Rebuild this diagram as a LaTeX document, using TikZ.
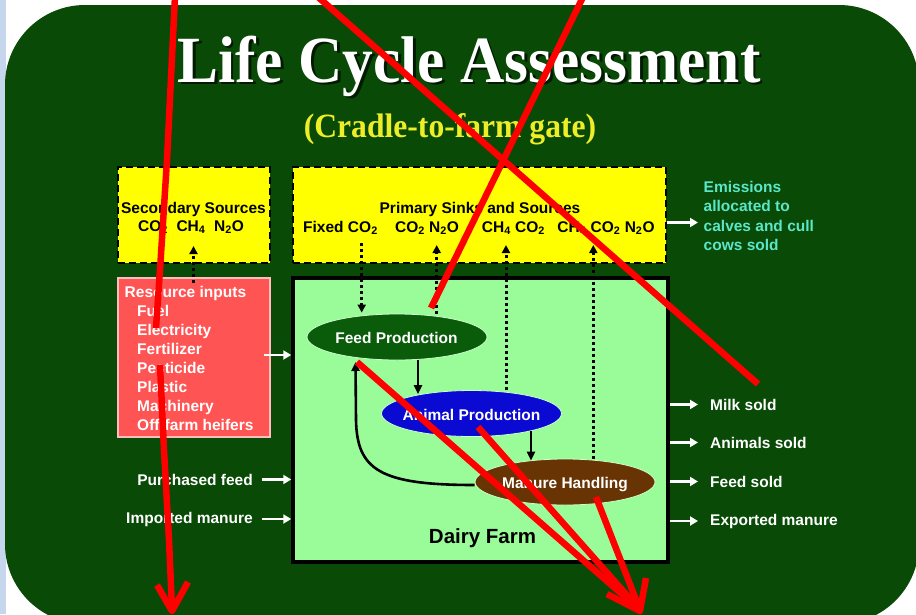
\documentclass[tikz,border=0pt]{standalone}
\usepackage{fontspec}
\setmainfont{Liberation Sans}
\newfontfamily\titlefont{Liberation Serif}
\usetikzlibrary{shapes.geometric,arrows.meta}
\definecolor{panelgreen}{RGB}{8,74,6}
\definecolor{boxyellow}{RGB}{255,255,0}
\definecolor{farmgreen}{RGB}{153,252,153}
\definecolor{resred}{RGB}{255,84,84}
\definecolor{resborder}{RGB}{255,190,190}
\definecolor{emitcyan}{RGB}{92,230,200}
\definecolor{subyellow}{RGB}{238,238,40}
\definecolor{feedgreen}{RGB}{10,92,10}
\definecolor{animalblue}{RGB}{10,10,210}
\definecolor{manurebrown}{RGB}{104,52,4}
\definecolor{markred}{RGB}{255,0,0}
\definecolor{edgeblue}{RGB}{198,214,236}
\begin{document}
\begin{tikzpicture}[x=1pt,y=-1pt,
  lbl/.style={font=\fontsize{15.5}{19}\selectfont\bfseries, inner sep=0pt},
  wlbl/.style={lbl, text=white},
  ybox/.style={draw=black, fill=boxyellow, line width=2.7pt, dash pattern=on 7pt off 4pt, inner sep=0pt},
  proc/.style={ellipse, draw=white!80!green, line width=0.8pt, minimum width=180pt, minimum height=46pt, inner sep=0pt},
  dotarrow/.style={draw=black, line width=3pt, dash pattern=on 3pt off 3pt, -{Triangle[length=8pt,width=8pt]}},
  flow/.style={draw=black, line width=2.6pt, -{Triangle[length=9pt,width=8pt]}},
  warrow/.style={draw=white, line width=2.6pt, -{Triangle[length=8pt,width=9pt]}},
  redmark/.style={draw=markred, line width=6.5pt, line join=round}
]
\useasboundingbox (0,0) rectangle (916,614);
\fill[white] (0,0) rectangle (916,614);
\fill[edgeblue] (0,0) rectangle (6,614);
\fill[panelgreen, rounded corners=80pt] (5,5) rectangle (919,624);

% title with its shadow
\node[font=\titlefont\fontsize{66}{66}\selectfont\bfseries, text=black, opacity=.65, anchor=base, inner sep=0pt] (titleshadow) at (471.5,84.5) {\scalebox{0.93}[1]{Life Cycle Assessment}};
\node[font=\titlefont\fontsize{66}{66}\selectfont\bfseries, text=white, anchor=base, inner sep=0pt] (title) at (469,82) {\scalebox{0.93}[1]{Life Cycle Assessment}};
\node[font=\titlefont\fontsize{34}{34}\selectfont\bfseries, text=subyellow, anchor=base, inner sep=0pt] (subtitle) at (450,137) {\scalebox{0.93}[1]{(Cradle-to-farm gate)}};

% boxes
\node[ybox, minimum width=152pt, minimum height=96pt] (secbox) at (194,215) {};
\node[ybox, minimum width=373pt, minimum height=96pt] (primbox) at (479.5,215) {};
\node[draw=resborder, fill=resred, line width=1.2pt, minimum width=152pt, minimum height=159pt, inner sep=0pt] (resbox) at (194,357.5) {};
\node[draw=black, fill=farmgreen, line width=3.5pt, minimum width=375pt, minimum height=284pt, inner sep=0pt] (farm) at (480.5,420) {};

% yellow box texts
\node[lbl, anchor=base] (sectitle) at (193.5,213) {Secondary Sources};
\node[lbl, anchor=base] (secgas) at (191,231) {CO\textsubscript{2}\ \ CH\textsubscript{4}\ \ N\textsubscript{2}O};
\node[lbl, anchor=base] (primtitle) at (480,213) {Primary Sinks and Sources};
\node[lbl, anchor=base] (g1) at (340.5,232) {Fixed CO\textsubscript{2}};
\node[lbl, anchor=base] (g2) at (427,232) {CO\textsubscript{2} N\textsubscript{2}O};
\node[lbl, anchor=base] (g3) at (513.5,232) {CH\textsubscript{4} CO\textsubscript{2}};
\node[lbl, anchor=base] (g4) at (606,232) {CH\textsubscript{4} CO\textsubscript{2} N\textsubscript{2}O};

% emissions
\node[lbl, text=emitcyan, anchor=base west] (em1) at (703.5,192.7) {Emissions};
\node[lbl, text=emitcyan, anchor=base west] (em2) at (703.5,211.7) {allocated to};
\node[lbl, text=emitcyan, anchor=base west] (em3) at (703.5,231) {calves and cull};
\node[lbl, text=emitcyan, anchor=base west] (em4) at (703.5,250) {cows sold};
\coordinate (emtip) at (698,222.5);
\draw[warrow] ([yshift=-7.5pt]primbox.east) -- (emtip);

% resource inputs
\node[wlbl, anchor=base west] (reshead) at (124.5,297) {Resource inputs};
\foreach \s [count=\i] in {Fuel, Electricity, Fertilizer, Pesticide, Plastic, Machinery, Off-farm heifers}
  \node[wlbl, anchor=base west] (res\i) at (137,297+19*\i) {\s};
\draw[warrow] ([shift={(-7pt,2.5pt)}]resbox.east) coordinate (ra) -- (farm.west |- ra);

% left inputs
\node[wlbl, anchor=base east] (pf) at (253,485) {Purchased feed};
\node[wlbl, anchor=base east] (im) at (253,523) {Imported manure};
\draw[warrow] ([xshift=9pt]pf.east) -- (farm.west |- pf.east);
\draw[warrow] ([xshift=9pt]im.east) -- (farm.west |- im.east);

% right outputs
\node[wlbl, anchor=base west] (milk) at (710,410) {Milk sold};
\node[wlbl, anchor=base west] (anim) at (710,448) {Animals sold};
\node[wlbl, anchor=base west] (feedsold) at (710,487) {Feed sold};
\node[wlbl, anchor=base west] (expm) at (710,525) {Exported manure};
\foreach \n in {milk, anim, feedsold, expm}
  \draw[warrow] (farm.east |- \n.west) -- ([xshift=-12pt]\n.west);

% processes
\node[proc, fill=feedgreen] (feed) at (397,337) {};
\node[proc, fill=animalblue] (animal) at (471.5,413.5) {};
\node[proc, fill=manurebrown] (manure) at (565,482) {};
\node[wlbl, anchor=base] (feedtxt) at (396.5,343) {Feed Production};
\node[wlbl, anchor=base] (animaltxt) at (471.5,420) {Animal Production};
\node[wlbl, anchor=base] (manuretxt) at (565,488) {Manure Handling};
\node[lbl, anchor=base, font=\fontsize{20.5}{24}\selectfont\bfseries] (farmtxt) at (482.5,543) {Dairy Farm};

% dotted emission arrows
\coordinate (s0) at (193.5,246);
\draw[dotarrow] ([yshift=-6pt]resbox.north -| s0) -- (s0);
\coordinate (p1) at (361.7,243);
\coordinate (p2) at (436.7,245);
\coordinate (p3) at (506,245);
\coordinate (p4) at (593.3,245);
\draw[dotarrow] (p1) -- ([yshift=1pt]feed.north -| p1);
\draw[dotarrow] (feed.north -| p2) -- (p2);
\draw[dotarrow] (animal.north -| p3) -- (p3);
\draw[dotarrow] (manure.north -| p4) -- (p4);

% flows
\coordinate (fa) at (418,0);
\coordinate (am) at (531,0);
\coordinate (fb) at (355.5,362);
\draw[flow] (feed.south -| fa) -- ([yshift=-4pt]animal.north -| fa);
\draw[flow] ([yshift=6pt]animal.south -| am) -- ([yshift=-2pt]manure.north -| am);
\draw[flow] ([yshift=-3pt]manure.west) .. controls (380,485) and (357,470) .. (356,420) -- (fb);

% red annotation marks
\draw[redmark] (175,-4) -- (167,160) -- (160,270) -- (156,328);
\draw[redmark] (160,365) -- (164,450) -- (169,540) -- (172,608);
\draw[redmark] (157,585) -- (172,611) -- (188,582);
\draw[redmark] (318,-3) -- (758,384);
\draw[redmark] (583,-3) -- (431,308);
\draw[redmark] (357,362) -- (640,610);
\draw[redmark] (478,427) -- (640,610);
\draw[redmark] (596,497) -- (640,610);
\draw[redmark] (607,594) -- (640,611) -- (646,578);
\end{tikzpicture}
\end{document}
